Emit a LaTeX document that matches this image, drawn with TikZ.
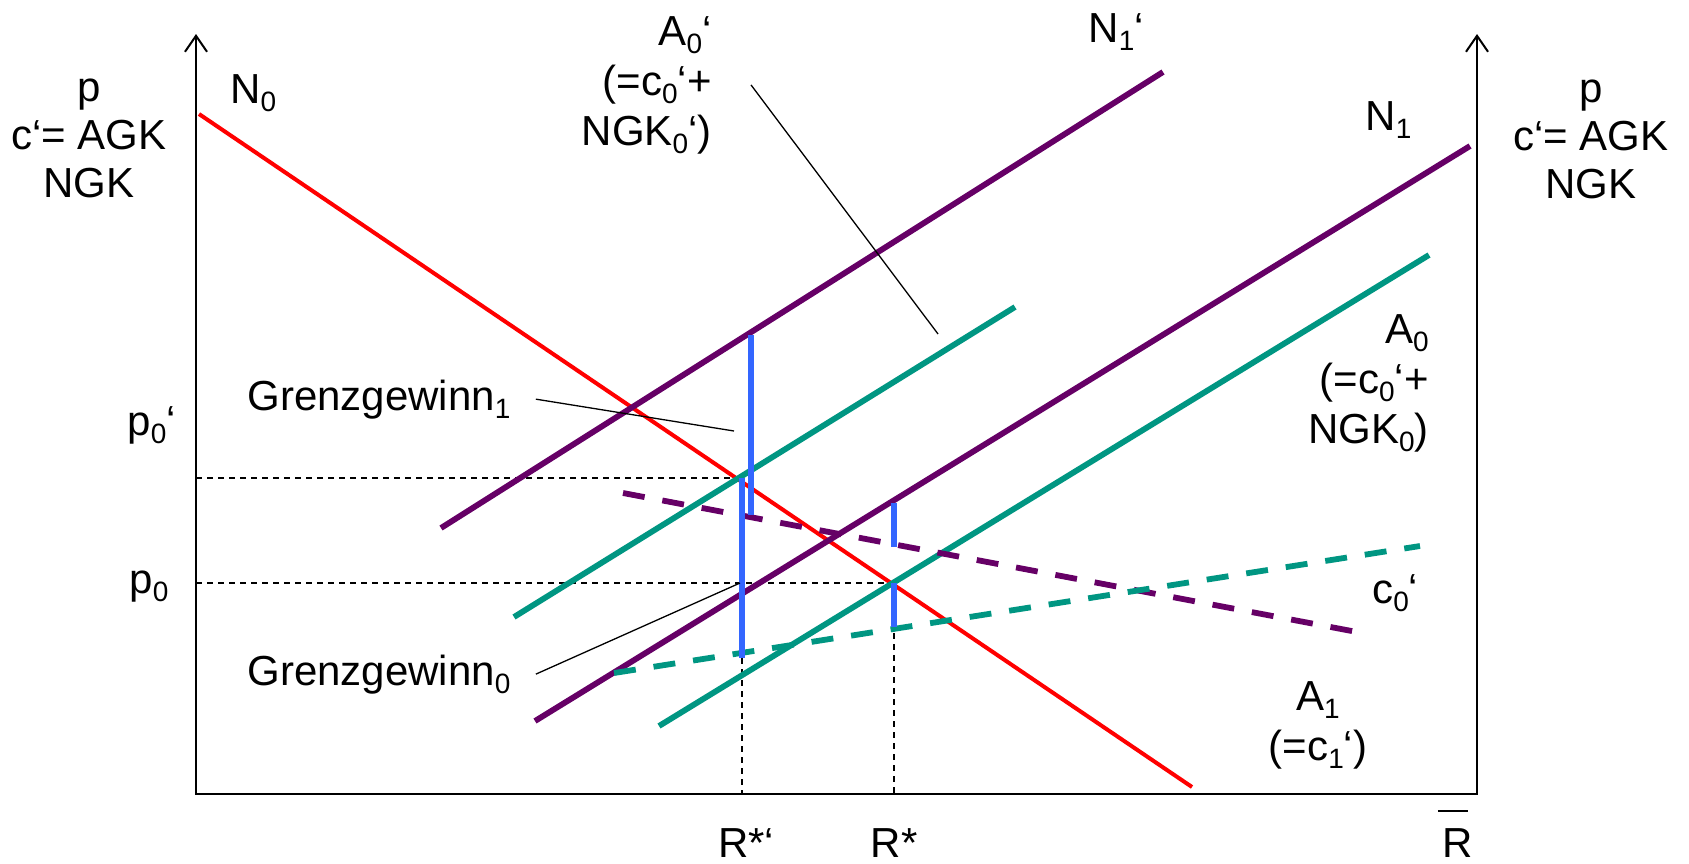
\documentclass[tikz,border=0pt]{standalone}
\usepackage{fontspec}
\setmainfont{Liberation Sans}
\usepackage{tikz}
\usetikzlibrary{arrows.meta}
\definecolor{demandred}{RGB}{255,0,0}
\definecolor{netpurple}{RGB}{102,0,102}
\definecolor{costgreen}{RGB}{0,150,130}
\definecolor{gainblue}{RGB}{51,102,255}
\newcommand{\lowix}[1]{\raisebox{-4pt}{\fontsize{14}{14}\selectfont #1}}
\newcommand{\barR}{\rlap{\hspace{-2.5pt}\raisebox{22.5pt}{\rule{15pt}{0.8pt}}}R}

\begin{document}
\begin{tikzpicture}[x=0.5pt, y=-0.5pt,
    axis/.style={line width=1pt, {Straight Barb[length=8pt,width=11pt]}-{Straight Barb[length=8pt,width=11pt]}},
    lbl/.style={font=\fontsize{21}{25}\selectfont, inner sep=0pt},
    axlbl/.style={font=\fontsize{21}{24}\selectfont, inner sep=0pt, align=center, anchor=base},
    guide/.style={line width=0.75pt, dash pattern=on 3pt off 2.5pt},
    curve/.style={line width=2.9pt},
    dcurve/.style={line width=2.9pt, dash pattern=on 11pt off 9pt},
    gain/.style={gainblue, line width=2.7pt},
    leader/.style={line width=0.65pt}
]
\useasboundingbox (0,0) rectangle (1689,863);

\coordinate (O) at (196,794);
\coordinate (ytop) at (196,34);
\coordinate (xend) at (1477,794);
\coordinate (ytop2) at (1477,34);
\coordinate (E1) at (742,478);
\coordinate (E0) at (894,583);

\draw[guide] (O |- E1) -- (E1) -- (E1 |- O);
\draw[guide] (O |- E0) -- (E0) -- (E0 |- O);
\draw[axis] (ytop) -- (O) -- (xend) -- (ytop2);

\draw[demandred, line width=2pt] (199,114) -- (1192,787);
\draw[curve, netpurple] (441,528) -- (1163,72);
\draw[curve, netpurple] (535,721) -- (1470,146);
\draw[curve, costgreen] (514,617) -- (1015,307);
\draw[curve, costgreen] (659,726) -- (1429,255);
\draw[dcurve, netpurple] (623,493) -- (1357,632);
\draw[dcurve, costgreen] (614,673) -- (1420,546);

\draw[gain] (751,335) -- (751,515);
\draw[gain] (E1) -- (742,658);
\draw[gain] (894,503) -- (894,547);
\draw[gain] (E0) -- (894,627);

\node[axlbl] (yleft) at (89,197) {p\\c‘= AGK\\NGK};
\node[axlbl] (yright) at (1591,198) {p\\c‘= AGK\\NGK};
\node[lbl, anchor=base west] (n0) at (230,103) {N\lowix{0}};
\node[lbl, anchor=base west] (n1p) at (1088,42) {N\lowix{1}‘};
\node[lbl, anchor=base west] (n1) at (1365,130) {N\lowix{1}};
\node[lbl, anchor=base east, align=right, inner xsep=19.5pt] (a0p) at (751,145) {A\lowix{0}‘\\(=c\lowix{0}‘+\\NGK\lowix{0}‘)};
\node[lbl, anchor=base east, align=right] (a0) at (1429,443) {A\lowix{0}\\(=c\lowix{0}‘+\\NGK\lowix{0})};
\node[lbl, anchor=base, align=center] (a1) at (1318,760) {A\lowix{1}\\(=c\lowix{1}‘)};
\node[lbl, anchor=base west] (c0p) at (1372,603) {c\lowix{0}‘};
\node[lbl, anchor=base west, inner xsep=12.5pt] (gw1) at (222,410) {Grenzgewinn\lowix{1}};
\node[lbl, anchor=base west, inner xsep=12.5pt] (gw0) at (222,685) {Grenzgewinn\lowix{0}};
\node[lbl, anchor=base west] (p0p) at (127,435) {p\lowix{0}‘};
\node[lbl, anchor=base west] (p0) at (129,593) {p\lowix{0}};
\node[lbl, anchor=base] (rsp) at (746,857) {R*‘};
\node[lbl, anchor=base] (rs) at (894,857) {R*};
\node[lbl, anchor=base] (rbar) at (1458,857) {\barR};

\coordinate (a0p end) at (938,334);
\coordinate (gw1 end) at (734,431);
\coordinate (gw0 end) at (740,583);
\draw[leader] (a0p.east) -- (a0p end);
\draw[leader] (gw1.east) -- (gw1 end);
\draw[leader] (gw0.east) -- (gw0 end);
\end{tikzpicture}
\end{document}
